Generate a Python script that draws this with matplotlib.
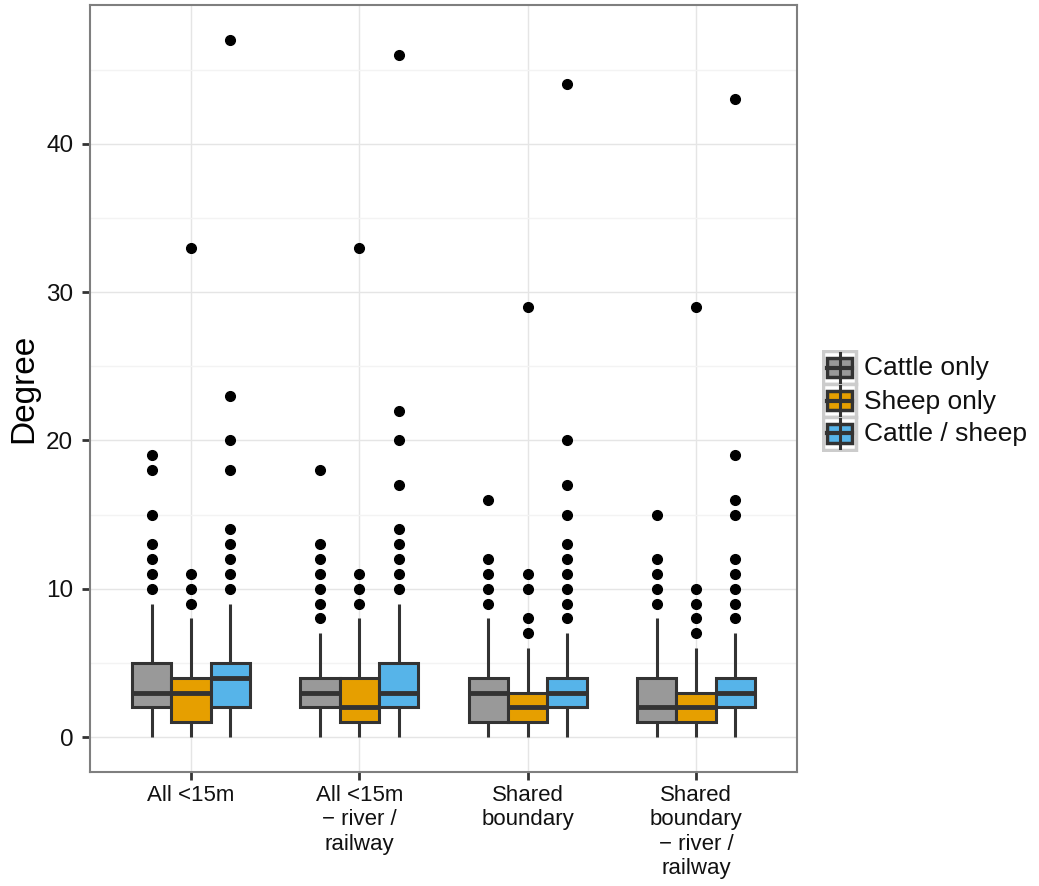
import matplotlib
matplotlib.use("Agg")
import matplotlib.pyplot as plt
from matplotlib.patches import Rectangle
from matplotlib.lines import Line2D

plt.rcParams["font.family"] = ["Liberation Sans", "DejaVu Sans"]

categories = ["All <15m", "All <15m\n\u2212 river /\nrailway", "Shared\nboundary",
              "Shared\nboundary\n\u2212 river /\nrailway"]
groups = ["Cattle only", "Sheep only", "Cattle / sheep"]
colors = ["#999999", "#E69F00", "#56B4E9"]

# box stats per herd type, one entry per contact definition
cattle_lo = [0, 0, 0, 0]
cattle_q1 = [2, 2, 1, 1]
cattle_med = [3, 3, 3, 2]
cattle_q3 = [5, 4, 4, 4]
cattle_hi = [9, 7, 8, 8]
cattle_out = [[10, 11, 12, 13, 15, 18, 19],
              [8, 9, 10, 11, 12, 13, 18],
              [9, 10, 11, 12, 16],
              [9, 10, 11, 12, 15]]

sheep_lo = [0, 0, 0, 0]
sheep_q1 = [1, 1, 1, 1]
sheep_med = [3, 2, 2, 2]
sheep_q3 = [4, 4, 3, 3]
sheep_hi = [8, 8, 6, 6]
sheep_out = [[9, 10, 11, 33],
             [9, 10, 11, 33],
             [7, 8, 10, 11, 29],
             [7, 8, 9, 10, 29]]

both_lo = [0, 0, 0, 0]
both_q1 = [2, 2, 2, 2]
both_med = [4, 3, 3, 3]
both_q3 = [5, 5, 4, 4]
both_hi = [9, 9, 7, 7]
both_out = [[10, 11, 12, 13, 14, 18, 20, 23, 47],
            [10, 11, 12, 13, 14, 17, 20, 22, 46],
            [8, 9, 10, 11, 12, 13, 15, 17, 20, 44],
            [8, 9, 10, 11, 12, 15, 16, 19, 43]]

series = [
    (cattle_lo, cattle_q1, cattle_med, cattle_q3, cattle_hi, cattle_out),
    (sheep_lo, sheep_q1, sheep_med, sheep_q3, sheep_hi, sheep_out),
    (both_lo, both_q1, both_med, both_q3, both_hi, both_out),
]

EDGE = "#333333"
dodge = 0.7 / 3

fig = plt.figure(figsize=(10.39, 8.86), dpi=100)
ax = fig.add_axes([90 / 1039, 1 - 772 / 886, 707 / 1039, 767 / 886])

for k, (lo, q1, med, q3, hi, out) in enumerate(series):
    stats = [dict(whislo=lo[i], q1=q1[i], med=med[i], q3=q3[i], whishi=hi[i], fliers=out[i])
             for i in range(len(categories))]
    pos = [i + 1 + (k - 1) * dodge for i in range(len(categories))]
    ax.bxp(stats, positions=pos, widths=dodge, patch_artist=True, showcaps=False,
           manage_ticks=False,
           boxprops=dict(facecolor=colors[k], edgecolor=EDGE, linewidth=2.2),
           medianprops=dict(color=EDGE, linewidth=3.5, solid_capstyle="butt"),
           whiskerprops=dict(color=EDGE, linewidth=2.2, solid_capstyle="butt"),
           flierprops=dict(marker="o", markerfacecolor="black", markeredgecolor="black",
                           markersize=7, linestyle="none"))

ax.set_xlim(0.4, 4.6)
ax.set_ylim(-2.35, 49.35)
ax.set_xticks(range(1, 5))
ax.set_xticklabels(categories, fontsize=16, linespacing=1.2)
ax.set_yticks([0, 10, 20, 30, 40])
ax.set_yticks([5, 15, 25, 35, 45], minor=True)
ax.tick_params(axis="both", which="major", length=6, width=2, color="#333333",
               labelcolor="#111111")
ax.tick_params(axis="y", labelsize=17.5, pad=6)
ax.tick_params(axis="y", which="minor", length=0)
ax.set_ylabel("Degree", fontsize=24, labelpad=5)

ax.set_axisbelow(True)
ax.grid(which="major", color="#E5E5E5", linewidth=1.0)
ax.grid(which="minor", axis="y", color="#F3F3F3", linewidth=1.0)
for s in ax.spines.values():
    s.set_color("#7F7F7F")
    s.set_linewidth(1.5)

# legend with boxplot-shaped keys
lax = fig.add_axes([822 / 1039, 1 - 452 / 886, 217 / 1039, 102 / 886])
lax.set_xlim(0, 217)
lax.set_ylim(102, 0)
lax.axis("off")
key = 33
for k, name in enumerate(groups):
    y0 = 1 + k * key
    lax.add_patch(Rectangle((1, y0), key, key, facecolor="white", edgecolor="#CCCCCC",
                            linewidth=2.5))
    cx = 1 + key / 2
    lax.add_line(Line2D([cx, cx], [y0 + 2, y0 + key - 2], color=EDGE, linewidth=2.2))
    lax.add_patch(Rectangle((5, y0 + 7), key - 8, key - 14, facecolor=colors[k],
                            edgecolor=EDGE, linewidth=2.5))
    lax.add_line(Line2D([5, key - 3], [y0 + key / 2, y0 + key / 2], color=EDGE,
                        linewidth=3))
    lax.text(42, y0 + key / 2 + 1, name, fontsize=19, va="center", ha="left",
             color="#111111")

fig.savefig("out.png", dpi=100)
